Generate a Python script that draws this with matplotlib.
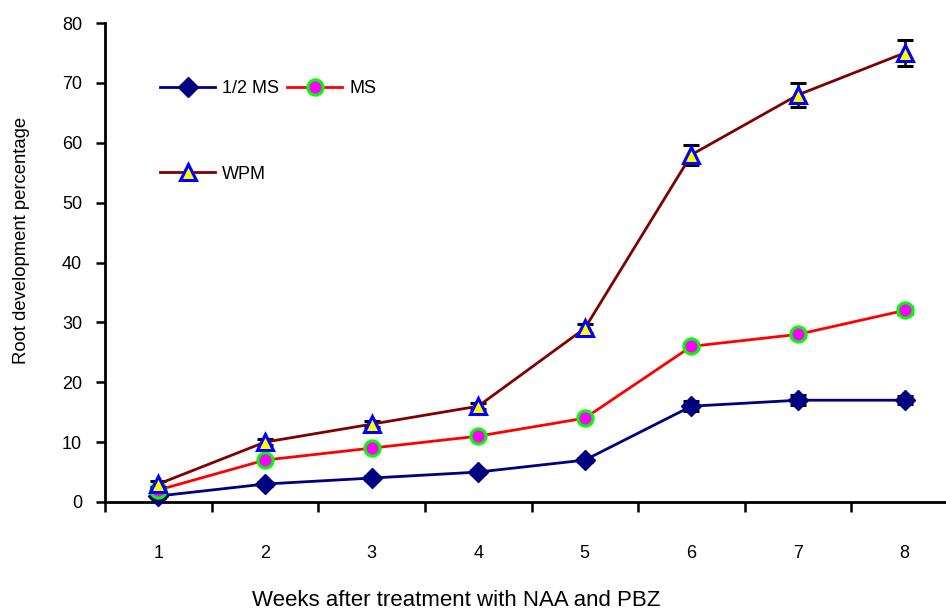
import matplotlib
matplotlib.use("Agg")
import matplotlib.pyplot as plt
from matplotlib.ticker import FixedLocator, NullFormatter, FixedFormatter

plt.rcParams['font.family'] = ['Liberation Sans', 'DejaVu Sans']

weeks = [1, 2, 3, 4, 5, 6, 7, 8]
week_labels = ["1", "2", "3", "4", "5", "6", "7", "8"]

half_ms = [1, 3, 4, 5, 7, 16, 17, 17]
half_ms_err = [0.3, 0.3, 0.3, 0.3, 0.3, 0.8, 0.8, 0.7]

ms = [2, 7, 9, 11, 14, 26, 28, 32]
ms_err = [0.3, 0.3, 0.3, 0.3, 0.3, 0.5, 0.5, 0.6]

wpm = [3, 10, 13, 16, 29, 58, 68, 75]
wpm_err = [0.5, 0.5, 0.5, 0.5, 0.8, 1.7, 2.0, 2.1]

W, H = 946, 615
fig = plt.figure(figsize=(W / 100, H / 100), dpi=100)
ax = fig.add_axes([105 / W, 1 - 502 / H, (958 - 105) / W, (502 - 23) / H])

series = [
    ("1/2 MS", half_ms, half_ms_err, dict(color="#000080", marker="D", markersize=10,
                                          markerfacecolor="#000080", markeredgecolor="#000080")),
    ("MS", ms, ms_err, dict(color="#FF0000", marker="o", markersize=11,
                            markerfacecolor="#FF00FF", markeredgecolor="#00FF00", markeredgewidth=2.2)),
    ("WPM", wpm, wpm_err, dict(color="#800000", marker="^", markersize=12,
                               markerfacecolor="#FFFF00", markeredgecolor="#0000FF", markeredgewidth=2.2)),
]

handles = {}
for i, (name, vals, errs, style) in enumerate(series):
    ax.errorbar(weeks, vals, yerr=errs, fmt="none", ecolor="black", elinewidth=1.8,
                capsize=5.5, capthick=2.2, zorder=2 + i * 2)
    h, = ax.plot(weeks, vals, linewidth=2, label=name, zorder=3 + i * 2, clip_on=False, **style)
    handles[name] = h

ax.set_xlim(0.5, 8.5)
ax.set_ylim(0, 80)
ax.set_yticks(range(0, 81, 10))

# category axis: tick marks between weeks, labels centred on each week
ax.xaxis.set_major_locator(FixedLocator([x + 0.5 for x in range(0, 9)]))
ax.xaxis.set_major_formatter(NullFormatter())
ax.xaxis.set_minor_locator(FixedLocator(weeks))
ax.xaxis.set_minor_formatter(FixedFormatter(week_labels))
ax.tick_params(axis="x", which="major", direction="out", length=7.5, width=1.8)
ax.tick_params(axis="x", which="minor", length=0, pad=31, labelsize=13)
ax.tick_params(axis="y", direction="out", length=6.5, width=1.8, pad=10, labelsize=13)

for s in ["top", "right"]:
    ax.spines[s].set_visible(False)
for s in ["left", "bottom"]:
    ax.spines[s].set_linewidth(2)

fig.text(22 / W, 1 - 240 / H, "Root development percentage", fontsize=13.3,
         rotation=90, ha="center", va="center")
fig.text(456 / W, 1 - 600 / H, "Weeks after treatment with NAA and PBZ", fontsize=16,
         ha="center", va="center")

ax.legend([handles["1/2 MS"], handles["WPM"], handles["MS"]],
          ["1/2 MS", "WPM", "MS"], ncol=2, frameon=False, fontsize=13,
          loc="upper left", bbox_to_anchor=(160 / W, 1 - 80 / H),
          bbox_transform=fig.transFigure, borderpad=0, borderaxespad=0,
          handlelength=3.05, handletextpad=0.4, columnspacing=0.45,
          labelspacing=3.8)

fig.savefig("out.png", dpi=100)
